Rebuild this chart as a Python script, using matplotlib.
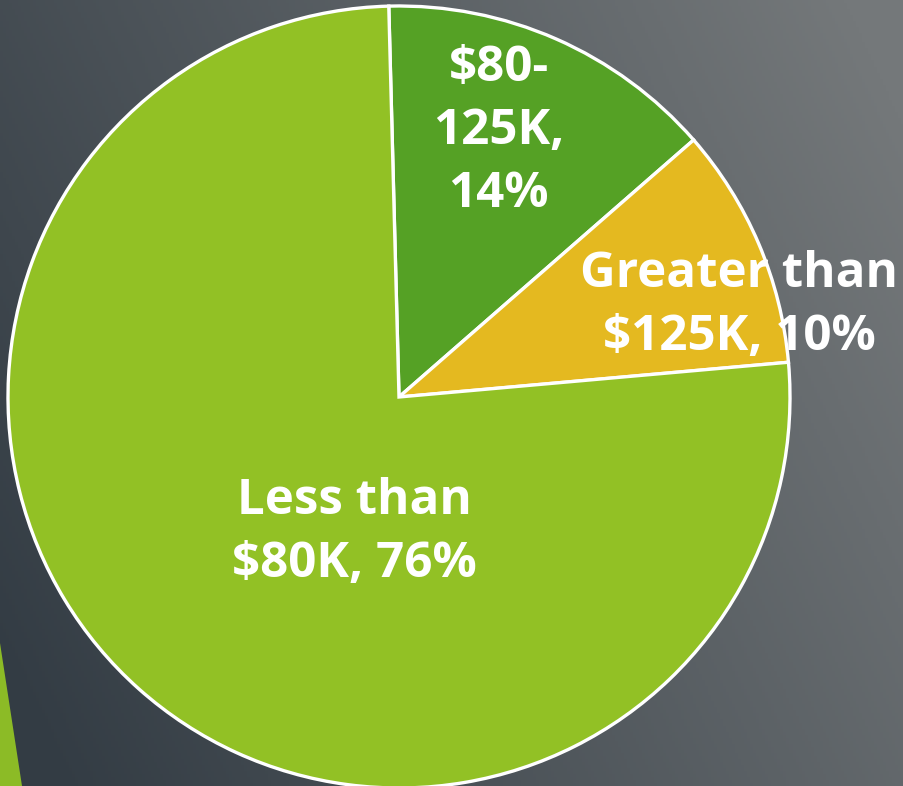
#!/usr/bin/env python3
"""Household income split pie chart on a dark slide background."""

import matplotlib

matplotlib.use("Agg")
import matplotlib.pyplot as plt
import numpy as np
from matplotlib.patches import Polygon

# data (clockwise from 12 o'clock)
labels = ["$80-\n125K,\n14%", "Greater than\n$125K, 10%", "Less than\n$80K, 76%"]
shares = [14, 10, 76]
colors = ["#55a125", "#e4b920", "#92c125"]

W, H = 904, 786
CENTER = (399, H - 397)
RADIUS = 391
# label anchor offsets as fractions of the radius
label_offsets = [(0.255, 0.678), (0.870, 0.232), (-0.113, -0.348)]

fig = plt.figure(figsize=(W / 100, H / 100), dpi=100)

# slide background gradient
bg = fig.add_axes([0, 0, 1, 1])
xx, yy = np.meshgrid(np.linspace(0, 1, 300), np.linspace(1, 0, 260))
t = np.clip(0.78 * xx + 0.32 * yy - 0.05, 0, 1)
dark = np.array([0x33, 0x3c, 0x44]) / 255
light = np.array([0x74, 0x78, 0x7a]) / 255
img = dark[None, None, :] * (1 - t[..., None]) + light[None, None, :] * t[..., None]
bg.imshow(img, extent=(0, W, 0, H), aspect="auto", origin="upper")
bg.set_xlim(0, W)
bg.set_ylim(0, H)
bg.axis("off")

# decorative green sliver at bottom left
bg.add_patch(Polygon([(0, H - 643), (22, 0), (0, 0)], closed=True,
                     facecolor="#8cbb26", edgecolor="none", zorder=2))

ax = fig.add_axes([0, 0, 1, 1])
ax.patch.set_alpha(0)

wedges, _ = ax.pie(
    shares,
    colors=colors,
    startangle=91.5,
    counterclock=False,
    center=CENTER,
    radius=RADIUS,
    frame=True,
    wedgeprops=dict(edgecolor="white", linewidth=2.4),
)
ax.set_xlim(0, W)
ax.set_ylim(0, H)
ax.set_aspect("equal")
ax.axis("off")

for text, (fx, fy) in zip(labels, label_offsets):
    ax.text(CENTER[0] + fx * RADIUS, CENTER[1] + fy * RADIUS, text,
            ha="center", va="center", color="white", fontsize=35.5,
            fontweight="bold", family=["Open Sans", "DejaVu Sans"],
            linespacing=1.38)

fig.savefig("out.png", dpi=100)
plt.close(fig)
